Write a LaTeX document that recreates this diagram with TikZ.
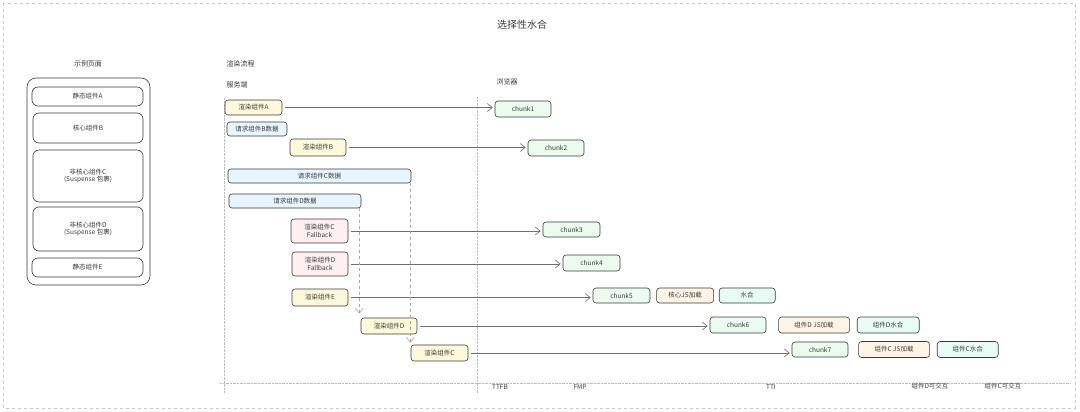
\documentclass[tikz,border=0pt]{standalone}
\usepackage{fontspec}
\setmainfont{Noto Sans CJK SC}
\usepackage{tikz}
\usetikzlibrary{positioning,arrows.meta}

\definecolor{ink}{HTML}{3A3A3A}
\definecolor{arrgray}{HTML}{6E6E6E}
\definecolor{guidegray}{HTML}{BDBDBD}
\definecolor{waitgray}{HTML}{A8A8A8}
\definecolor{framegray}{HTML}{C8C8C8}
\definecolor{renfill}{HTML}{FFF9DB}
\definecolor{reqfill}{HTML}{E7F5FF}
\definecolor{fbfill}{HTML}{FFEFF0}
\definecolor{chfill}{HTML}{EBFBEE}
\definecolor{jsfill}{HTML}{FFF4E6}
\definecolor{hyfill}{HTML}{E6FCF5}

\begin{document}
\begin{tikzpicture}[
  x=1pt, y=-1pt,
  node distance=6pt,
  box/.style={draw=ink, rounded corners=3pt, line width=0.6pt, align=center,
              font=\fontsize{6.5}{7.5}\selectfont, text=ink, inner sep=1pt},
  part/.style={box, rounded corners=6pt, fill=white, minimum width=110pt},
  render/.style={box, fill=renfill},
  fetch/.style={box, fill=reqfill, minimum height=14pt},
  fallback/.style={box, fill=fbfill, minimum height=24pt},
  chunk/.style={box, fill=chfill, minimum width=56pt, minimum height=16pt},
  jsload/.style={box, fill=jsfill, minimum height=16pt},
  hydrate/.style={box, fill=hyfill, minimum height=16pt},
  arr/.style={-{Straight Barb[length=5pt,width=8pt]}, draw=arrgray, line width=0.6pt},
  wait/.style={arr, dashed, draw=waitgray},
  guide/.style={densely dotted, draw=guidegray, line width=0.4pt},
  lab/.style={font=\fontsize{7}{8}\selectfont, text=ink},
  milestone/.style={font=\fontsize{6.5}{7.5}\selectfont, text=ink}
]
\useasboundingbox (0,0) rectangle (1080,412);
\draw[dashed, draw=framegray, line width=0.5pt] (3,3) rectangle (1075,408);
\node[font=\fontsize{10}{12}\selectfont, text=ink] (title) at (522,25) {选择性水合};

% example page
\node[lab] (pagelab) at (88,64) {示例页面};
\node[draw=ink, line width=0.6pt, rounded corners=9pt, minimum width=123pt,
      minimum height=207pt] (page) at (88.5,181.5) {};
\node[part, minimum width=111pt, minimum height=19pt] (sA) at (87.5,96.5) {静态组件A};
\node[part, minimum height=30pt] (cB) at (88,128) {核心组件B};
\node[part, minimum height=52pt] (nC) at (88,176) {非核心组件C\\(Suspense 包裹)};
\node[part, minimum height=44pt] (nD) at (88,229) {非核心组件D\\(Suspense 包裹)};
\node[part, minimum width=111pt, minimum height=19pt] (sE) at (87.5,267.5) {静态组件E};

% server / browser lanes
\node[lab, anchor=west] (flowlab) at (223,64) {渲染流程};
\node[lab, anchor=west] (serverlab) at (223,85) {服务端};
\node[lab, anchor=west] (browserlab) at (493,82) {浏览器};
\draw[guide] (224,98) -- (224,393);
\draw[guide] (477,97) -- (477,393);
\draw[guide] (220,383) -- (1070,383);

% server side
\node[render, minimum width=57pt, minimum height=15pt] (renA) at (253.5,107.5) {渲染组件A};
\node[fetch, minimum width=60pt] (reqB) at (257,129) {请求组件B数据};
\node[render, minimum width=56pt, minimum height=17pt] (renB) at (318,147.5) {渲染组件B};
\node[fetch, minimum width=183pt] (reqC) at (319.5,176) {请求组件C数据};
\node[fetch, minimum width=132pt] (reqD) at (295,201) {请求组件D数据};
\node[fallback, minimum width=57pt] (renCF) at (319.5,231) {渲染组件C\\Fallback};
\node[fallback, minimum width=56pt] (renDF) at (320,264) {渲染组件D\\Fallback};
\node[render, minimum width=56pt, minimum height=17pt] (renE) at (320,297.5) {渲染组件E};
\node[render, minimum width=56pt, minimum height=16pt] (renD) at (389,326) {渲染组件D};
\node[render, minimum width=57pt, minimum height=16pt] (renC) at (439.5,353) {渲染组件C};

% browser side
\node[chunk] (ch1) at (523,109) {chunk1};
\node[chunk] (ch2) at (556,148) {chunk2};
\node[chunk, minimum width=57pt, minimum height=15pt] (ch3) at (571.5,229.5) {chunk3};
\node[chunk, minimum width=57pt] (ch4) at (591.5,263) {chunk4};
\node[chunk, minimum width=57pt, minimum height=15pt] (ch5) at (621.5,295.5) {chunk5};
\node[jsload, minimum width=57pt, minimum height=15pt, right=6pt of ch5] (jsCore) {核心JS加载};
\node[hydrate, minimum width=56pt, minimum height=15pt, right=5pt of jsCore] (hyCore) {水合};
\node[chunk] (ch6) at (738,325) {chunk6};
\node[jsload, minimum width=71pt, right=12pt of ch6] (jsD) {组件D JS加载};
\node[hydrate, minimum width=62pt, right=7pt of jsD] (hyD) {组件D水合};
\node[chunk, minimum height=15pt] (ch7) at (820,349.5) {chunk7};
\node[jsload, minimum width=71pt, right=10pt of ch7] (jsC) {组件C JS加载};
\node[hydrate, minimum width=61pt, right=7pt of jsC] (hyC) {组件C水合};

% streaming
\draw[arr] ([xshift=3pt]renA.east) -- ([xshift=-2pt]renA.east -| ch1.west);
\draw[arr] ([xshift=3pt]renB.east) -- ([xshift=-2pt]renB.east -| ch2.west);
\draw[arr] ([xshift=3pt]renCF.east) -- ([xshift=-2pt]renCF.east -| ch3.west);
\draw[arr] ([xshift=3pt]renDF.east) -- ([xshift=-2pt]renDF.east -| ch4.west);
\draw[arr] ([xshift=3pt]renE.east) -- ([xshift=-2pt]renE.east -| ch5.west);
\draw[arr] ([xshift=3pt]renD.east) -- ([xshift=-2pt]renD.east -| ch6.west);
\draw[arr] ([xshift=3pt]renC.east) -- ([xshift=-2pt]renC.east -| ch7.west);
\draw[wait] ([xshift=-2pt]reqD.south east) -- ([xshift=-2pt,yshift=4pt]reqD.south east |- renD.north);
\draw[wait] ([xshift=-1pt]reqC.south east) -- ([xshift=-1pt,yshift=2pt]reqC.south east |- renC.north);

% milestones
\node[milestone] (ttfb) at (500,387) {TTFB};
\node[milestone] (fmp) at (580,387) {FMP};
\node[milestone] (tti) at (771,387) {TTI};
\node[milestone] (readyD) at (930,386) {组件D可交互};
\node[milestone] (readyC) at (1003,386) {组件C可交互};
\end{tikzpicture}
\end{document}
